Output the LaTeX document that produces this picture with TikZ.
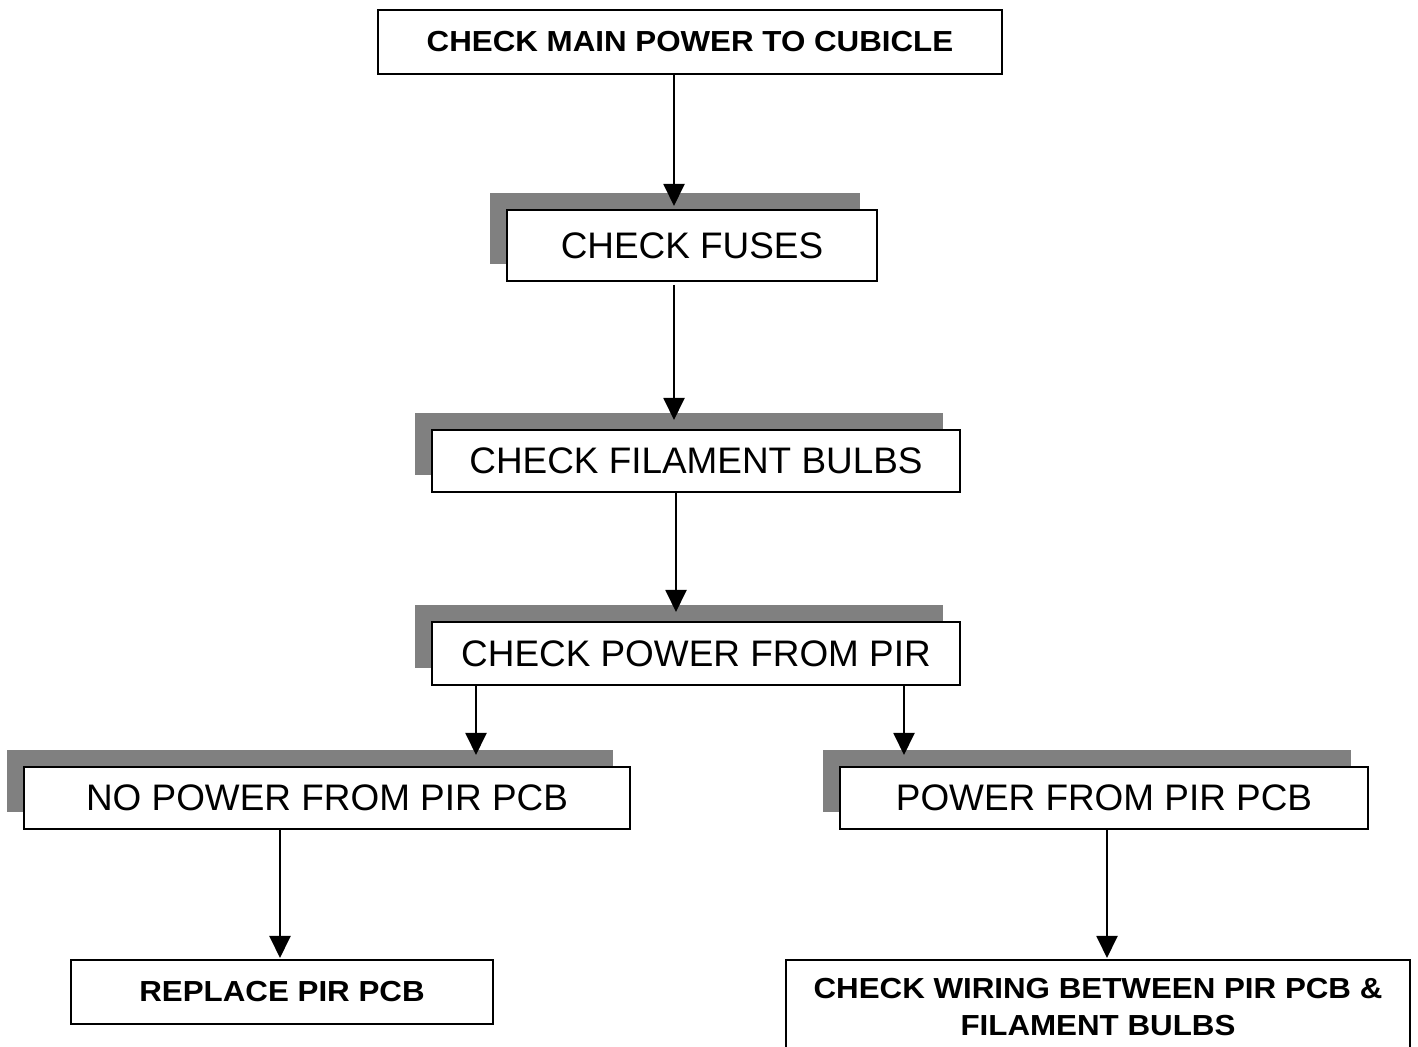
\documentclass[tikz,border=0pt]{standalone}
\usepackage{fontspec}
\setmainfont{Liberation Sans}
\newfontfamily\actfont{Liberation Sans}[FakeStretch=1.08]
\usepackage{tikz}
\usetikzlibrary{arrows.meta,shadows,calc}
\definecolor{figgray}{HTML}{808080}
\definecolor{figink}{HTML}{000000}

\begin{document}
\begin{tikzpicture}[
  cell/.style={draw=figink, fill=white, line width=1.1pt, align=center, inner sep=2pt, outer sep=0pt,
               font=\fontsize{21}{25}\selectfont},
  shaded/.style={cell, drop shadow={shadow xshift=-0.34cm, shadow yshift=0.34cm, fill=figgray, opacity=1}},
  act/.style={cell, font=\actfont\fontsize{16.5}{21}\selectfont\bfseries},
  arr/.style={-{Triangle[length=0.44cm, width=0.42cm]}, line width=1.1pt, figink}]
\useasboundingbox (0,0) rectangle (28.36,-20.94);
\node[act]    (main)    at (13.80,-0.84)  [minimum width=12.48cm, minimum height=1.28cm] {CHECK MAIN POWER TO CUBICLE};
\node[shaded] (fuses)   at (13.84,-4.91)  [minimum width=7.40cm, minimum height=1.42cm] {CHECK FUSES};
\node[shaded] (bulbs)   at (13.92,-9.22)  [minimum width=10.56cm, minimum height=1.24cm] {CHECK FILAMENT BULBS};
\node[shaded] (pir)     at (13.92,-13.07) [minimum width=10.56cm, minimum height=1.26cm] {CHECK POWER FROM PIR};
\node[shaded] (nopow)   at (6.54,-15.96)  [minimum width=12.12cm, minimum height=1.24cm] {NO POWER FROM PIR PCB};
\node[shaded] (pow)     at (22.08,-15.96) [minimum width=10.56cm, minimum height=1.24cm] {POWER FROM PIR PCB};
\node[act]    (replace) at (5.64,-19.84)  [minimum width=8.44cm, minimum height=1.28cm] {REPLACE PIR PCB};
\node[act, anchor=north] (wiring) at (21.96,-19.20) [minimum width=12.48cm, minimum height=1.88cm]
  {CHECK WIRING BETWEEN PIR PCB \&\\FILAMENT BULBS};
\draw[arr] ($(main.south)+(-0.32,0)$)     -- ($(fuses.north)+(-0.36,0.08)$);
\draw[arr] ($(fuses.south)+(-0.36,-0.08)$) -- ($(bulbs.north)+(-0.44,0.2)$);
\draw[arr] ($(bulbs.south)+(-0.40,0)$)    -- ($(pir.north)+(-0.40,0.2)$);
\draw[arr] ($(pir.south)+(-4.40,0)$)      -- ($(nopow.north)+(2.98,0.24)$);
\draw[arr] ($(pir.south)+(4.16,0)$)       -- ($(pow.north)+(-4.00,0.24)$);
\draw[arr] ($(nopow.south)+(-0.94,0)$)    -- ($(replace.north)+(-0.04,0.04)$);
\draw[arr] ($(pow.south)+(0.06,0)$)       -- ($(wiring.north)+(0.18,0.04)$);
\end{tikzpicture}
\end{document}
